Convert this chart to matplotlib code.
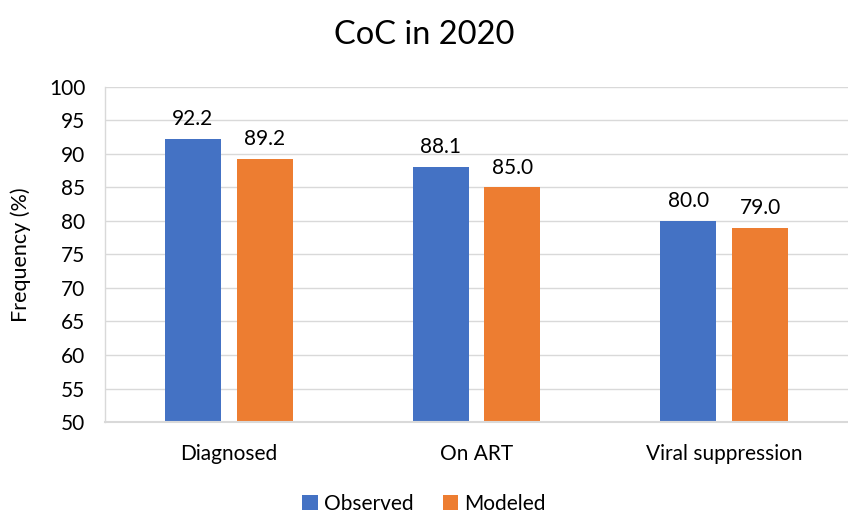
import matplotlib

matplotlib.use("Agg")
import matplotlib.pyplot as plt
import numpy as np

categories = ["Diagnosed", "On ART", "Viral suppression"]
observed = [92.2, 88.1, 80.0]
modeled = [89.2, 85.0, 79.0]
series_names = ["Observed", "Modeled"]
y_ticks = list(range(50, 101, 5))

BLUE = "#4472C4"
ORANGE = "#ED7D31"
GRID = "#D9D9D9"
TEXT = "#000000"

plt.rcParams["font.family"] = ["Lato", "DejaVu Sans"]

fig = plt.figure(figsize=(8.48, 5.16), dpi=100)
ax = fig.add_axes([0.1238, 0.182, 0.8762, 0.650])

x = np.arange(len(categories))
width = 0.226
offset = 0.145
bars_obs = ax.bar(x - offset, observed, width, color=BLUE, label=series_names[0], zorder=3)
bars_mod = ax.bar(x + offset, modeled, width, color=ORANGE, label=series_names[1], zorder=3)

for bars in (bars_obs, bars_mod):
    for bar in bars:
        h = bar.get_height()
        ax.annotate(f"{h:.1f}", (bar.get_x() + bar.get_width() / 2, h),
                    xytext=(0, 7), textcoords="offset points",
                    ha="center", va="bottom", fontsize=15, color=TEXT)

ax.set_ylim(50, 100)
ax.set_xlim(-0.5, 2.5)
ax.set_yticks(y_ticks)
ax.set_xticks(x)
ax.set_xticklabels(categories)
ax.tick_params(axis="both", length=0, labelsize=15, colors=TEXT)
ax.tick_params(axis="x", pad=15.5)
ax.tick_params(axis="y", pad=14)
ax.yaxis.grid(True, color=GRID, linewidth=1, zorder=0)
for side in ("right", "top"):
    ax.spines[side].set_visible(False)
ax.spines["left"].set_color(GRID)
ax.spines["left"].set_linewidth(1)
ax.spines["bottom"].set_color(GRID)
ax.spines["bottom"].set_linewidth(1.5)
ax.spines["bottom"].set_zorder(4)
ax.set_ylabel("Frequency (%)", fontsize=15.5, labelpad=13)

fig.suptitle("CoC in 2020", fontsize=23.5, y=0.962)
fig.legend(loc="center", bbox_to_anchor=(0.5, 0.024), ncol=2, frameon=False,
           fontsize=15, handlelength=0.75, handleheight=0.75, handletextpad=0.3,
           columnspacing=1.4, borderpad=0.1)

fig.savefig("out.png", dpi=100, facecolor="white")
